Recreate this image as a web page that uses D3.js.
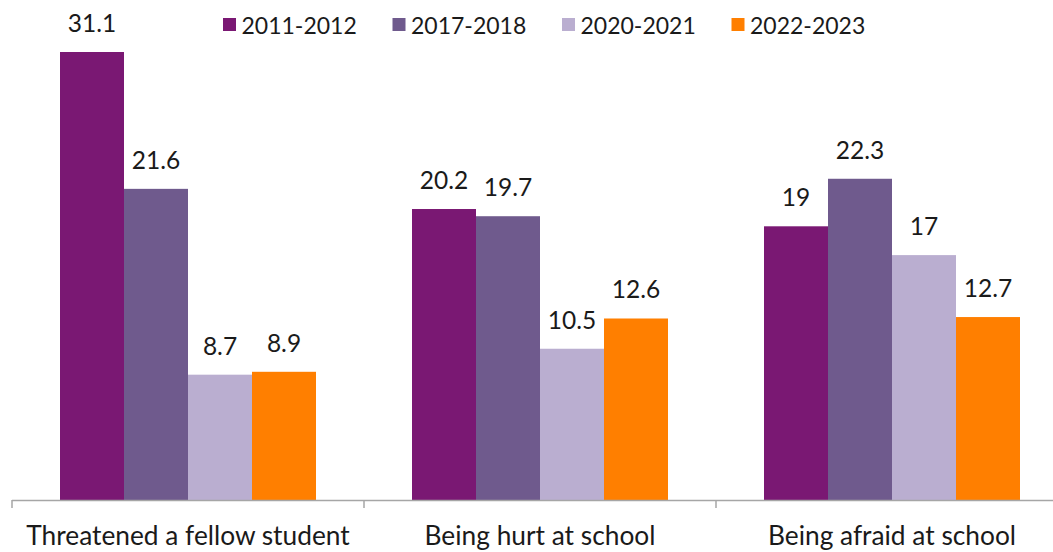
<!DOCTYPE html>
<html>
<head>
<meta charset="utf-8">
<script src="https://cdn.jsdelivr.net/npm/d3@7"></script>
<style>
  html, body { margin: 0; padding: 0; background: #fff; }
  svg { display: block; }
  text { font-family: Lato, "Open Sans", sans-serif; fill: #1a1a1a; }
</style>
</head>
<body>
<svg id="chart" width="1053" height="552"></svg>
<script>
const categories = ["Threatened a fellow student", "Being hurt at school", "Being afraid at school"];
const seriesNames = ["2011-2012", "2017-2018", "2020-2021", "2022-2023"];
const s2011 = [31.1, 20.2, 19];
const s2017 = [21.6, 19.7, 22.3];
const s2020 = [8.7, 10.5, 17];
const s2022 = [8.9, 12.6, 12.7];
const seriesValues = [s2011, s2017, s2020, s2022];
const colors = ["#7a1873", "#6f5a8d", "#baaed0", "#ff7f00"];

const svg = d3.select("#chart");
const W = 1053, H = 552;
const baseY = 500;

const x0 = d3.scaleBand().domain(categories).range([12, 12 + 352 * 3]).paddingInner(0).paddingOuter(0);
const x1 = d3.scaleBand().domain(seriesNames).range([48, 48 + 64 * 4]).padding(0);
const y = d3.scaleLinear().domain([0, 31.1]).range([baseY, 52]);

const data = categories.map((c, i) => ({
  cat: c,
  vals: seriesNames.map((s, j) => ({ series: s, value: seriesValues[j][i], color: colors[j] }))
}));

const groups = svg.append("g").selectAll("g").data(data).join("g")
  .attr("transform", d => `translate(${x0(d.cat)},0)`);

groups.selectAll("rect").data(d => d.vals).join("rect")
  .attr("x", d => x1(d.series))
  .attr("width", x1.bandwidth())
  .attr("y", d => y(d.value))
  .attr("height", d => baseY - y(d.value))
  .attr("fill", d => d.color);

groups.selectAll("text.val").data(d => d.vals).join("text")
  .attr("class", "val")
  .attr("x", d => x1(d.series) + x1.bandwidth() / 2)
  .attr("y", d => y(d.value) - 20)
  .attr("text-anchor", "middle")
  .style("font-size", "24.5px")
  .text(d => String(d.value));

// x axis
const axisG = svg.append("g").attr("transform", `translate(0,${baseY})`);
axisG.append("line")
  .attr("x1", 12).attr("x2", W).attr("y1", 0.5).attr("y2", 0.5)
  .attr("stroke", "#a6a6a6").attr("stroke-width", 1.5);
const boundaries = categories.map(c => x0(c)).concat([x0.range()[1]]);
axisG.selectAll("line.tk").data(boundaries).join("line")
  .attr("class", "tk")
  .attr("x1", d => d).attr("x2", d => d)
  .attr("y1", 0).attr("y2", 8)
  .attr("stroke", "#a6a6a6").attr("stroke-width", 1.5);
axisG.selectAll("text.cat").data(categories).join("text")
  .attr("class", "cat")
  .attr("x", d => x0(d) + x0.bandwidth() / 2)
  .attr("y", 45)
  .attr("text-anchor", "middle")
  .style("font-size", "26.3px")
  .text(d => d);

// legend
const legendX = [223, 392.5, 562, 731.5];
const legend = svg.append("g").selectAll("g").data(seriesNames).join("g")
  .attr("transform", (d, i) => `translate(${legendX[i]},18)`);
legend.append("rect").attr("width", 13).attr("height", 13).attr("fill", (d, i) => colors[i]);
legend.append("text").attr("x", 18.5).attr("y", 16.3)
  .style("font-size", "23px").text(d => d);
</script>
</body>
</html>
